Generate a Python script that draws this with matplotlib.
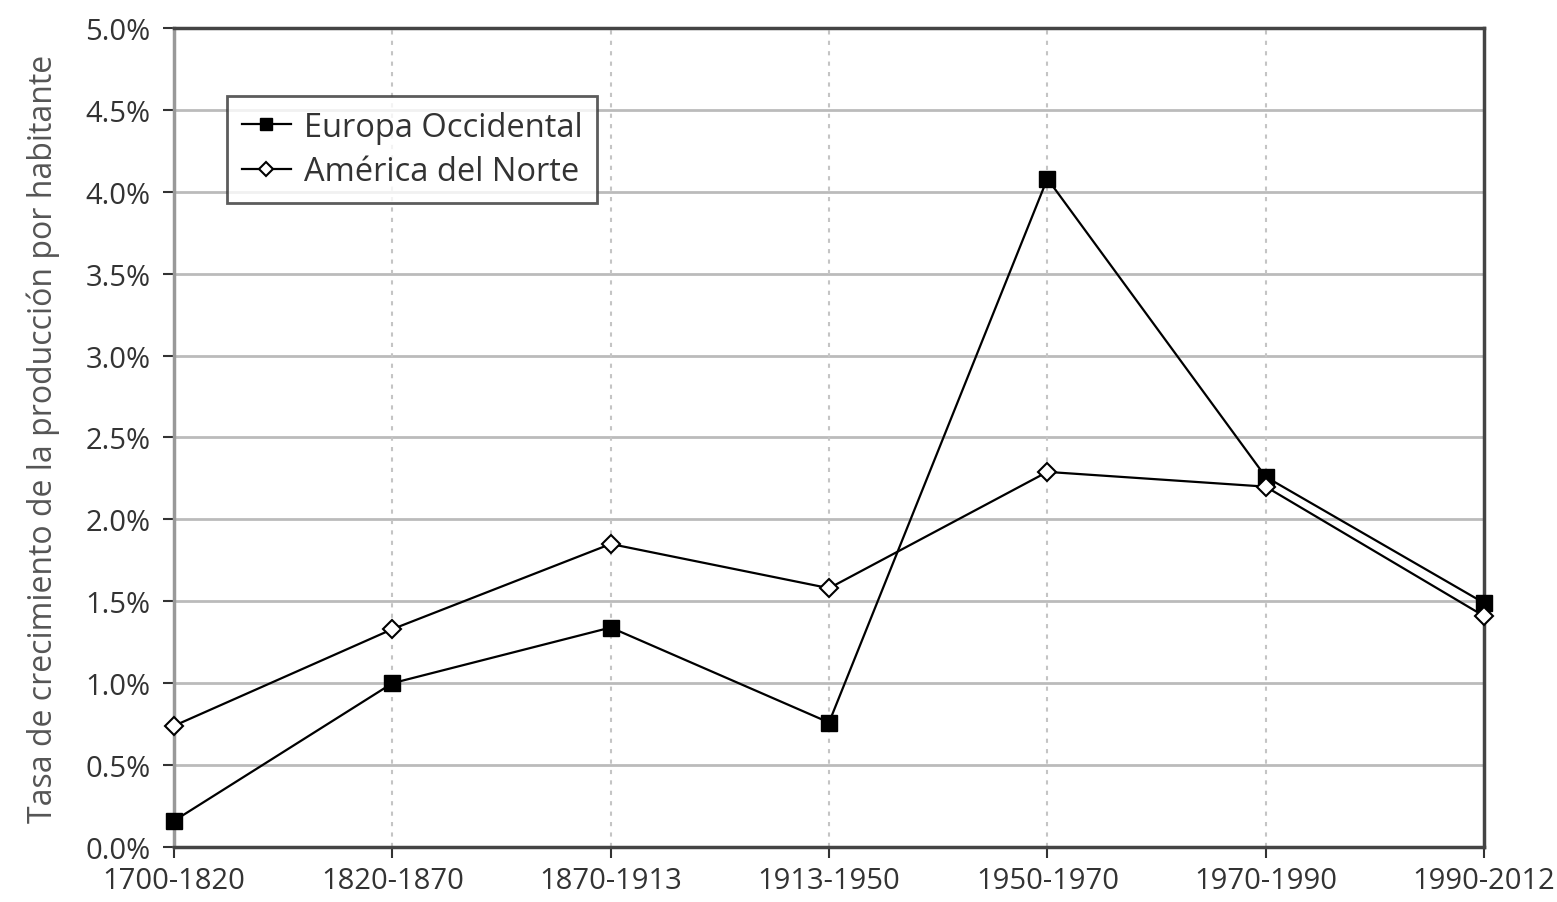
import matplotlib
matplotlib.use('Agg')
import matplotlib.pyplot as plt
from matplotlib.ticker import FuncFormatter

plt.rcParams['font.family'] = ['Open Sans', 'DejaVu Sans']

periods = ['1700-1820', '1820-1870', '1870-1913', '1913-1950',
           '1950-1970', '1970-1990', '1990-2012']
europa = [0.16, 1.00, 1.34, 0.76, 4.08, 2.26, 1.49]
america = [0.74, 1.33, 1.85, 1.58, 2.29, 2.20, 1.41]
yticks = [0.0, 0.5, 1.0, 1.5, 2.0, 2.5, 3.0, 3.5, 4.0, 4.5, 5.0]

fig = plt.figure(figsize=(15.57, 9.03), dpi=100)
ax = fig.add_axes([0.1118, 0.0609, 0.8413, 0.9070])

x = list(range(len(periods)))

# grid
for y in yticks[1:-1]:
    ax.axhline(y, color='#bbbbbb', lw=2, zorder=1)
for xi in x[1:-1]:
    ax.axvline(xi, color='#c4c4c4', lw=1.5, ls=(0, (2, 3)), zorder=1)

ax.plot(x, europa, color='black', lw=1.6, marker='s', markersize=11,
        markerfacecolor='black', markeredgecolor='black', label='Europa Occidental',
        zorder=3, clip_on=False)
ax.plot(x, america, color='black', lw=1.6, marker='D', markersize=9,
        markerfacecolor='white', markeredgecolor='black', markeredgewidth=1.5,
        label='América del Norte', zorder=3, clip_on=False)

ax.set_xlim(0, 6)
ax.set_ylim(0, 5)
ax.set_xticks(x)
ax.set_xticklabels(periods)
ax.set_yticks(yticks)
ax.yaxis.set_major_formatter(FuncFormatter(lambda v, p: '%.1f%%' % v))
ax.tick_params(axis='both', labelsize=21, color='#333333', labelcolor='#333333',
               length=8, width=1.5, direction='out')
ax.tick_params(axis='y', pad=9)
ax.tick_params(axis='x', pad=6)
ax.set_ylabel('Tasa de crecimiento de la producción por habitante',
              fontsize=23, color='#555555', labelpad=18)

for s in ['top', 'right', 'bottom']:
    ax.spines[s].set_color('#444444')
    ax.spines[s].set_linewidth(2.5)
ax.spines['left'].set_color('#999999')
ax.spines['left'].set_linewidth(2.5)

leg = ax.legend(loc='upper left', bbox_to_anchor=(0.0405, 0.917), fontsize=23.5,
                frameon=True, fancybox=False, edgecolor='#333333',
                handlelength=1.5, borderpad=0.45, labelspacing=0.35,
                handletextpad=0.4, borderaxespad=0, markerscale=0.75)
leg.get_frame().set_linewidth(2)
for t in leg.get_texts():
    t.set_color('#333333')

fig.savefig('out.png', dpi=100)
